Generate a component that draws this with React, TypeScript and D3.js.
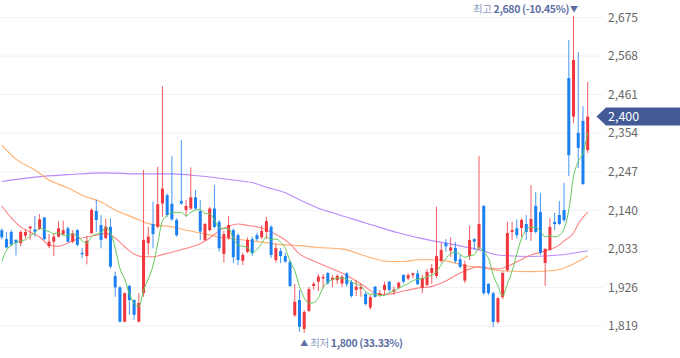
import React from 'react';
import * as d3 from 'd3';

const W = 680;
const H = 358;

// OHLC per trading day (oldest -> newest)
const opens = [2085,2060,2080,2058,2049,2070,2090,2087,2088,2120,2040,2053,2067,2074,2090,2053,2085,2022,2013,2076,2138,2099,2063,2094,1958,1926,1831,1930,1891,1831,1910,2049,2102,2094,2159,2182,2158,2113,2166,2141,2145,2176,2138,2058,2085,2145,2108,2019,2063,2085,2071,2000,2025,2060,2071,2065,2080,2094,2002,2027,2013,1997,1849,1891,1811,1861,1930,1942,1951,1966,1947,1946,1937,1965,1941,1919,1922,1908,1870,1928,1905,1919,1942,1914,1924,1961,1951,1960,1965,1925,1933,1966,1958,2000,2050,2028,2036,2004,1945,2013,2060,2035,2152,1936,1910,1830,1899,1974,2080,2090,2091,2102,2080,2152,2135,1994,2030,2108,2127,2141,2507,2400,2355,2388,2307];
const highs = [2090,2080,2085,2060,2085,2088,2096,2124,2130,2122,2074,2076,2110,2111,2095,2085,2088,2035,2069,2146,2169,2127,2117,2117,1970,1930,1912,1933,1893,1910,2252,2094,2164,2261,2485,2187,2290,2118,2335,2169,2259,2196,2169,2105,2150,2210,2113,2083,2124,2090,2076,2022,2065,2067,2078,2099,2122,2099,2047,2035,2022,2002,1936,1919,1863,1927,1941,1963,1963,1969,1960,1963,1960,1969,1947,1947,1938,1914,1905,1930,1919,1942,1944,1928,1942,1961,1965,1967,1974,1961,1977,1991,2150,2049,2060,2065,2052,2016,2000,2097,2063,2291,2155,1938,1914,1900,1971,2108,2108,2115,2118,2127,2210,2190,2188,2035,2118,2133,2166,2216,2613,2680,2579,2429,2496];
const lows = [2060,2035,2040,2015,2040,2062,2058,2067,2085,2058,2035,2013,2065,2071,2050,2049,2039,2007,1990,2076,2080,2035,2060,1979,1900,1829,1829,1850,1836,1829,1900,2016,2035,2090,2122,2122,2111,2067,2155,2122,2141,2141,2058,2055,2082,2090,2025,1995,2058,1993,1988,1988,2021,2013,2055,2060,2060,2008,1995,1994,1994,1927,1844,1803,1800,1858,1919,1916,1925,1933,1927,1936,1928,1928,1898,1902,1900,1876,1865,1898,1900,1905,1914,1905,1921,1937,1946,1952,1933,1910,1930,1936,1952,1995,2025,2011,1993,1979,1938,2002,2030,2030,1905,1905,1816,1825,1893,1970,2058,2062,2065,2058,2055,2076,2016,1930,2028,2085,2099,2108,2235,2382,2257,2210,2299];
const closes = [2065,2037,2045,2049,2080,2080,2095,2081,2115,2060,2053,2067,2090,2085,2053,2076,2044,2018,2055,2141,2113,2058,2095,1984,1926,1831,1910,1891,1850,1883,2058,2067,2074,2157,2200,2127,2115,2071,2159,2152,2176,2145,2081,2102,2145,2094,2035,2074,2099,2010,2002,2016,2058,2021,2060,2083,2110,2016,2035,2013,1998,1930,1886,1817,1858,1921,1936,1956,1955,1938,1953,1958,1956,1935,1902,1928,1927,1880,1899,1900,1910,1933,1919,1920,1939,1942,1960,1965,1935,1952,1969,1980,2013,2030,2040,2037,1999,1983,1990,2058,2053,2102,1910,1910,1830,1896,1966,2077,2085,2071,2113,2080,2116,2080,2022,2033,2094,2102,2102,2113,2293,2557,2313,2213,2400];
// closes of the four days before the visible window (for the 5-day average)
const preCloses = [1880, 1975, 2010, 2060];

// moving averages: [day index, value]
const ma20Pts: [number, number][] = [[0,2152],[2,2119],[4,2094],[6,2080],[8,2066],[10,2044],[12,2040],[14,2049],[16,2060],[18,2066],[20,2071],[22,2076],[24,2063],[26,2039],[28,2019],[30,2011],[32,2011],[34,2017],[37,2027],[40,2038],[42,2047],[44,2063],[46,2083],[48,2096],[50,2102],[52,2098],[55,2091],[57,2080],[59,2066],[61,2047],[63,2019],[65,2005],[67,1994],[70,1977],[72,1966],[75,1944],[77,1927],[79,1910],[81,1906],[83,1910],[85,1916],[88,1924],[91,1929],[94,1944],[97,1966],[101,1983],[103,1980],[105,1977],[107,1984],[109,1997],[112,2016],[115,2027],[118,2044],[119,2055],[121,2077],[122,2102],[124,2135]];
const ma60Pts: [number, number][] = [[0,2321],[3,2282],[7,2252],[10,2224],[14,2202],[17,2182],[21,2163],[24,2141],[28,2119],[31,2103],[36,2094],[38,2088],[42,2077],[46,2066],[53,2055],[60,2044],[63,2042],[67,2037],[72,2033],[77,2013],[82,1998],[85,1998],[88,2003],[92,2003],[95,1997],[98,1987],[102,1980],[105,1973],[112,1970],[117,1973],[119,1980],[121,1991],[124,2013]];
const ma120Pts: [number, number][] = [[0,2220],[7,2232],[14,2239],[22,2244],[29,2241],[36,2241],[42,2235],[49,2224],[53,2217],[56,2204],[60,2189],[63,2169],[67,2146],[70,2133],[77,2105],[84,2077],[91,2056],[96,2044],[102,2027],[105,2016],[112,2012],[118,2016],[124,2028]];

const yTicks = [1819, 1926, 2033, 2140, 2247, 2354, 2461, 2568, 2675];
const lastPrice = 2400;
const highInfo = { idx: 121, value: 2680, label: '2,680 (-10.45%)' };
const lowInfo = { idx: 64, value: 1800, label: '1,800 (33.33%)' };

const RED = '#f0373d';
const BLUE = '#1b80f2';
const FONT = "'Noto Sans CJK KR', 'Noto Sans', sans-serif";

export default function App() {
  const n = closes.length;
  const x = d3.scaleLinear().domain([0, n - 1]).range([1.8, 587.7]);
  const y = d3.scaleLinear().domain([1819, 2675]).range([326, 17.5]);

  const all = [...preCloses, ...closes];
  const ma5: [number, number][] = closes.map((_, i) => {
    const w = all.slice(i, i + 5);
    return [i, d3.mean(w) as number];
  });

  const line = d3
    .line<[number, number]>()
    .x((d) => x(d[0]))
    .y((d) => y(d[1]))
    .curve(d3.curveMonotoneX);

  const fmt = d3.format(',');
  const bodyW = 3;

  return (
    <svg width={W} height={H} style={{ position: 'absolute', left: 0, top: 0, background: '#fff' }} fontFamily={FONT}>
      {yTicks.map((t) => (
        <g key={t}>
          <line x1={0} x2={603} y1={y(t)} y2={y(t)} stroke="#f1f2f7" strokeWidth={1} />
          <text x={608} y={y(t)} dy="0.35em" fontSize={12} fill="#666">
            {fmt(t)}
          </text>
        </g>
      ))}

      <path d={line(ma120Pts) || ''} fill="none" stroke="#b98afc" strokeWidth={1.1} />
      <path d={line(ma60Pts) || ''} fill="none" stroke="#ffb070" strokeWidth={1.1} />
      <path d={line(ma20Pts) || ''} fill="none" stroke="#ff8585" strokeWidth={1.1} />

      {closes.map((c, i) => {
        const o = opens[i];
        const up = c >= o;
        const col = up ? RED : BLUE;
        const cx = x(i);
        const top = y(Math.max(o, c));
        const bot = y(Math.min(o, c));
        return (
          <g key={i}>
            <line x1={cx} x2={cx} y1={y(highs[i])} y2={y(lows[i])} stroke={col} strokeWidth={1} opacity={0.8} />
            <rect x={cx - bodyW / 2} y={top} width={bodyW} height={Math.max(1, bot - top)} fill={col} />
          </g>
        );
      })}

      <path d={line(ma5) || ''} fill="none" stroke="#62c85a" strokeWidth={1} />

      {/* current price tag */}
      <path
        d={`M596.5,${y(lastPrice)} L606,${y(lastPrice) - 9} L680,${y(lastPrice) - 9} L680,${y(lastPrice) + 9} L606,${y(lastPrice) + 9} Z`}
        fill="#435a97"
      />
      <text x={608} y={y(lastPrice)} dy="0.35em" fontSize={12.5} fill="#fff">
        {fmt(lastPrice)}
      </text>

      {/* high marker */}
      <text x={x(highInfo.idx) - 4.5} y={9.5} dy="0.35em" textAnchor="end" fontSize={10.5} letterSpacing={-0.35}>
        <tspan fill="#8e9cc2">최고 </tspan>
        <tspan fill="#5c6fa3" fontWeight={600}>{highInfo.label}</tspan>
      </text>
      <text x={x(highInfo.idx) + 0.5} y={9.5} dy="0.35em" textAnchor="middle" fontSize={8} fill="#5c6fa3">
        ▼
      </text>

      {/* low marker */}
      <text x={x(lowInfo.idx)} y={343} dy="0.35em" textAnchor="middle" fontSize={8} fill="#5c6fa3">
        ▲
      </text>
      <text x={x(lowInfo.idx) + 6} y={343} dy="0.35em" fontSize={10.5} letterSpacing={-0.35}>
        <tspan fill="#8e9cc2">최저 </tspan>
        <tspan fill="#5c6fa3" fontWeight={600}>{lowInfo.label}</tspan>
      </text>
    </svg>
  );
}
